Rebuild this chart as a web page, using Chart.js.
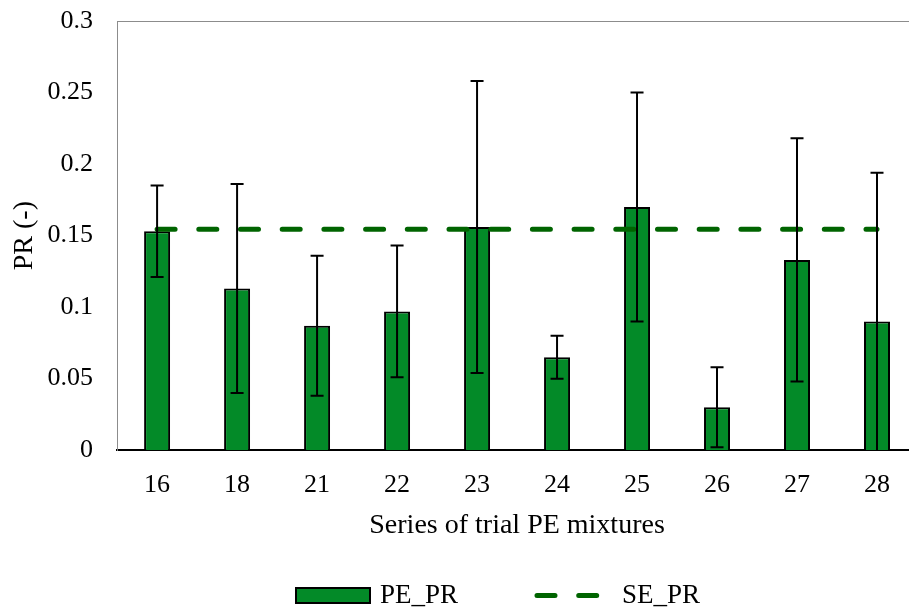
<!DOCTYPE html>
<html>
<head>
<meta charset="utf-8">
<script src="https://cdn.jsdelivr.net/npm/chart.js@4/dist/chart.umd.min.js"></script>
<style>
  html, body { margin: 0; padding: 0; background: #fff; overflow: hidden; }
  #wrap { width: 909px; height: 611px; overflow: hidden; }
</style>
</head>
<body>
<div id="wrap"><canvas id="c" width="990" height="611"></canvas></div>
<script>
// data
var categories = ['16', '18', '21', '22', '23', '24', '25', '26', '27', '28'];
var pePR = [0.153, 0.113, 0.087, 0.097, 0.156, 0.065, 0.170, 0.030, 0.133, 0.090];
var peErr = [0.032, 0.073, 0.049, 0.046, 0.102, 0.015, 0.080, 0.028, 0.085, 0.104];
var sePR = [0.1545, 0.1545, 0.1545, 0.1545, 0.1545, 0.1545, 0.1545, 0.1545, 0.1545, 0.1545];
var yTicks = ['0', '0.05', '0.1', '0.15', '0.2', '0.25', '0.3'];

var serif = 'Liberation Serif';
var barGreen = '#038a28';
var lineGreen = '#006400';

// error bars + top frame line
var errorBars = {
  id: 'errorBars',
  afterDatasetsDraw: function(chart) {
    var ctx = chart.ctx;
    var x = chart.scales.x, y = chart.scales.y;
    var a = chart.chartArea;
    ctx.save();
    ctx.beginPath();
    ctx.rect(a.left, a.top - 2, a.right - a.left, a.bottom - a.top + 2);
    ctx.clip();
    ctx.strokeStyle = '#000';
    ctx.lineWidth = 2;
    for (var i = 0; i < pePR.length; i++) {
      var px = x.getPixelForValue(i);
      var hi = y.getPixelForValue(pePR[i] + peErr[i]);
      var lo = y.getPixelForValue(pePR[i] - peErr[i]);
      ctx.beginPath();
      ctx.moveTo(px, hi); ctx.lineTo(px, lo);
      ctx.moveTo(px - 6.5, hi); ctx.lineTo(px + 6.5, hi);
      ctx.moveTo(px - 6.5, lo); ctx.lineTo(px + 6.5, lo);
      ctx.stroke();
    }
    ctx.restore();
    ctx.save();
    ctx.strokeStyle = '#8c8c8c';
    ctx.lineWidth = 1;
    ctx.beginPath();
    ctx.moveTo(a.left, a.top + 0.5);
    ctx.lineTo(a.right, a.top + 0.5);
    ctx.stroke();
    ctx.restore();
  }
};

// legend drawn by hand at the bottom
var legendBox = {
  id: 'legendBox',
  afterDraw: function(chart) {
    var ctx = chart.ctx;
    ctx.save();
    ctx.fillStyle = barGreen;
    ctx.strokeStyle = '#000';
    ctx.lineWidth = 2;
    ctx.fillRect(296, 588, 74, 15);
    ctx.strokeRect(296, 588, 74, 15);
    ctx.strokeStyle = lineGreen;
    ctx.lineWidth = 5;
    ctx.lineCap = 'round';
    ctx.setLineDash([18, 23.7]);
    ctx.beginPath();
    ctx.moveTo(537, 595.5);
    ctx.lineTo(600, 595.5);
    ctx.stroke();
    ctx.setLineDash([]);
    ctx.fillStyle = '#000';
    ctx.font = '27px "' + serif + '"';
    ctx.textBaseline = 'middle';
    ctx.fillText('PE_PR', 380, 596);
    ctx.fillText('SE_PR', 622, 596);
    ctx.restore();
  }
};

new Chart(document.getElementById('c'), {
  type: 'bar',
  data: {
    labels: categories,
    datasets: [
      {
        type: 'line',
        label: 'SE_PR',
        data: sePR,
        borderColor: lineGreen,
        borderWidth: 5,
        borderDash: [18, 23.7],
        borderCapStyle: 'round',
        pointRadius: 0,
        fill: false,
        order: 0
      },
      {
        label: 'PE_PR',
        data: pePR,
        backgroundColor: barGreen,
        borderColor: '#000',
        borderWidth: 2,
        barPercentage: 0.325,
        categoryPercentage: 1,
        order: 1
      }
    ]
  },
  options: {
    responsive: false,
    animation: false,
    devicePixelRatio: 1,
    layout: { padding: { left: 5, right: 73, top: 21, bottom: 69 } },
    plugins: {
      legend: { display: false },
      tooltip: { enabled: false }
    },
    scales: {
      x: {
        grid: { display: false, drawTicks: false },
        border: { display: true, color: '#000', width: 2 },
        ticks: { color: '#000', font: { family: serif, size: 26 }, padding: 19 },
        title: {
          display: true,
          text: 'Series of trial PE mixtures',
          color: '#000',
          font: { family: serif, size: 28 },
          padding: { top: -11, bottom: 0 }
        }
      },
      y: {
        min: 0,
        max: 0.3,
        grid: { display: false, drawTicks: false },
        border: { display: true, color: '#8c8c8c', width: 1 },
        afterFit: function(scale) { scale.paddingTop = 0; },
        ticks: {
          stepSize: 0.05,
          color: '#000',
          font: { family: serif, size: 26 },
          padding: 24,
          callback: function(v, i) { return yTicks[i]; }
        },
        title: {
          display: true,
          text: 'PR (-)',
          color: '#000',
          font: { family: serif, size: 28 },
          padding: { top: 3, bottom: -18 }
        }
      }
    }
  },
  plugins: [errorBars, legendBox]
});
</script>
</body>
</html>
